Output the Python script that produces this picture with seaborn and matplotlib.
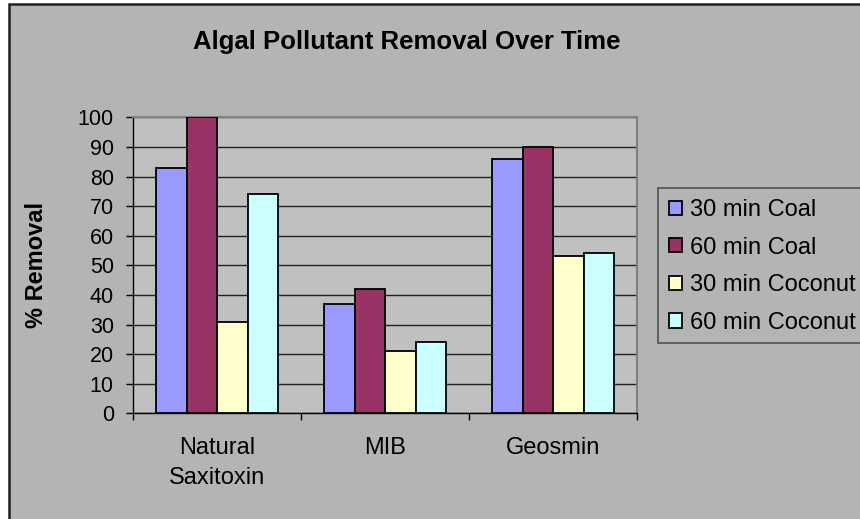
import matplotlib
matplotlib.use("Agg")
import matplotlib.pyplot as plt
from matplotlib.patches import Rectangle, Patch
from matplotlib.ticker import FixedLocator
import seaborn as sns
import pandas as pd

categories = ["Natural\nSaxitoxin", "MIB", "Geosmin"]
series = ["30 min Coal", "60 min Coal", "30 min Coconut", "60 min Coconut"]
coal_30 = [83, 37, 86]
coal_60 = [100, 42, 90]
coconut_30 = [31, 21, 53]
coconut_60 = [74, 24, 54]
colors = ["#9999FF", "#993366", "#FFFFCC", "#CCFFFF"]
yticks = list(range(0, 101, 10))

rows = []
for s, vals in zip(series, [coal_30, coal_60, coconut_30, coconut_60]):
    for c, v in zip(categories, vals):
        rows.append({"Category": c, "Series": s, "Value": v})
df = pd.DataFrame(rows)

plt.rcParams["font.family"] = ["Liberation Sans", "DejaVu Sans"]

W, H = 860, 519
fig = plt.figure(figsize=(W / 100, H / 100), dpi=100, facecolor="white")
# chart area background with border
fig.patches.append(Rectangle((9 / W, -0.05), 1.1, 1 - 4 / H + 0.05, transform=fig.transFigure,
                             facecolor="#B4B4B4", edgecolor="#202020", linewidth=1.8, zorder=-10))
# legend box (extends beyond right edge, as in the reference)
fig.patches.append(Rectangle((657.7 / W, 1 - 343.3 / H), 0.5, (343.3 - 187.7) / H,
                             transform=fig.transFigure, facecolor="#B4B4B4", edgecolor="#505050",
                             linewidth=1.2, zorder=-5))

ax = fig.add_axes([133.3 / W, 1 - 413.3 / H, (637.3 - 133.3) / W, (413.3 - 117.3) / H])
ax.set_facecolor("#C0C0C0")

sns.barplot(data=df, x="Category", y="Value", hue="Series", order=categories, hue_order=series,
            palette=colors, width=0.724, edgecolor="black", linewidth=1.3, saturation=1,
            legend=False, ax=ax, zorder=3)

ax.set_xlim(-0.5, 2.5)
ax.set_ylim(0, 100)
ax.set_yticks(yticks)
ax.set_yticklabels([str(t) for t in yticks], fontsize=15.5)
ax.yaxis.grid(True, color="#202020", linewidth=1.0, zorder=0)
ax.set_axisbelow(True)

ax.tick_params(axis="x", which="major", length=0, pad=17, labelsize=17)
ax.xaxis.set_minor_locator(FixedLocator([-0.5, 0.5, 1.5, 2.5]))
ax.tick_params(axis="x", which="minor", length=5, width=1, color="black", direction="out")
ax.tick_params(axis="y", length=5, width=1, color="black", direction="out", pad=9)

for lab in ax.get_xticklabels():
    lab.set_linespacing(1.5)

for side in ["left", "bottom"]:
    ax.spines[side].set_color("black")
    ax.spines[side].set_linewidth(1.0)
for side in ["top", "right"]:
    ax.spines[side].set_color("#808080")
    ax.spines[side].set_linewidth(1.5)

ax.set_xlabel("")
ax.set_ylabel("% Removal", fontsize=17, fontweight="bold")
ax.yaxis.set_label_coords(-0.169, 0.5)

fig.text(407 / W, 1 - 42 / H, "Algal Pollutant Removal Over Time", fontsize=18.5, fontweight="bold",
         ha="center", va="center")

handles = [Patch(facecolor=c, edgecolor="black", linewidth=1.3) for c in colors]
leg = fig.legend(handles, series, loc="upper left",
                 bbox_to_anchor=(657.7 / W, 1 - 187.7 / H),
                 fontsize=17, frameon=False,
                 handlelength=0.55, handleheight=0.55, handletextpad=0.35,
                 borderpad=0.48, labelspacing=0.66, borderaxespad=0)

fig.savefig("out.png", dpi=100, facecolor="white")
